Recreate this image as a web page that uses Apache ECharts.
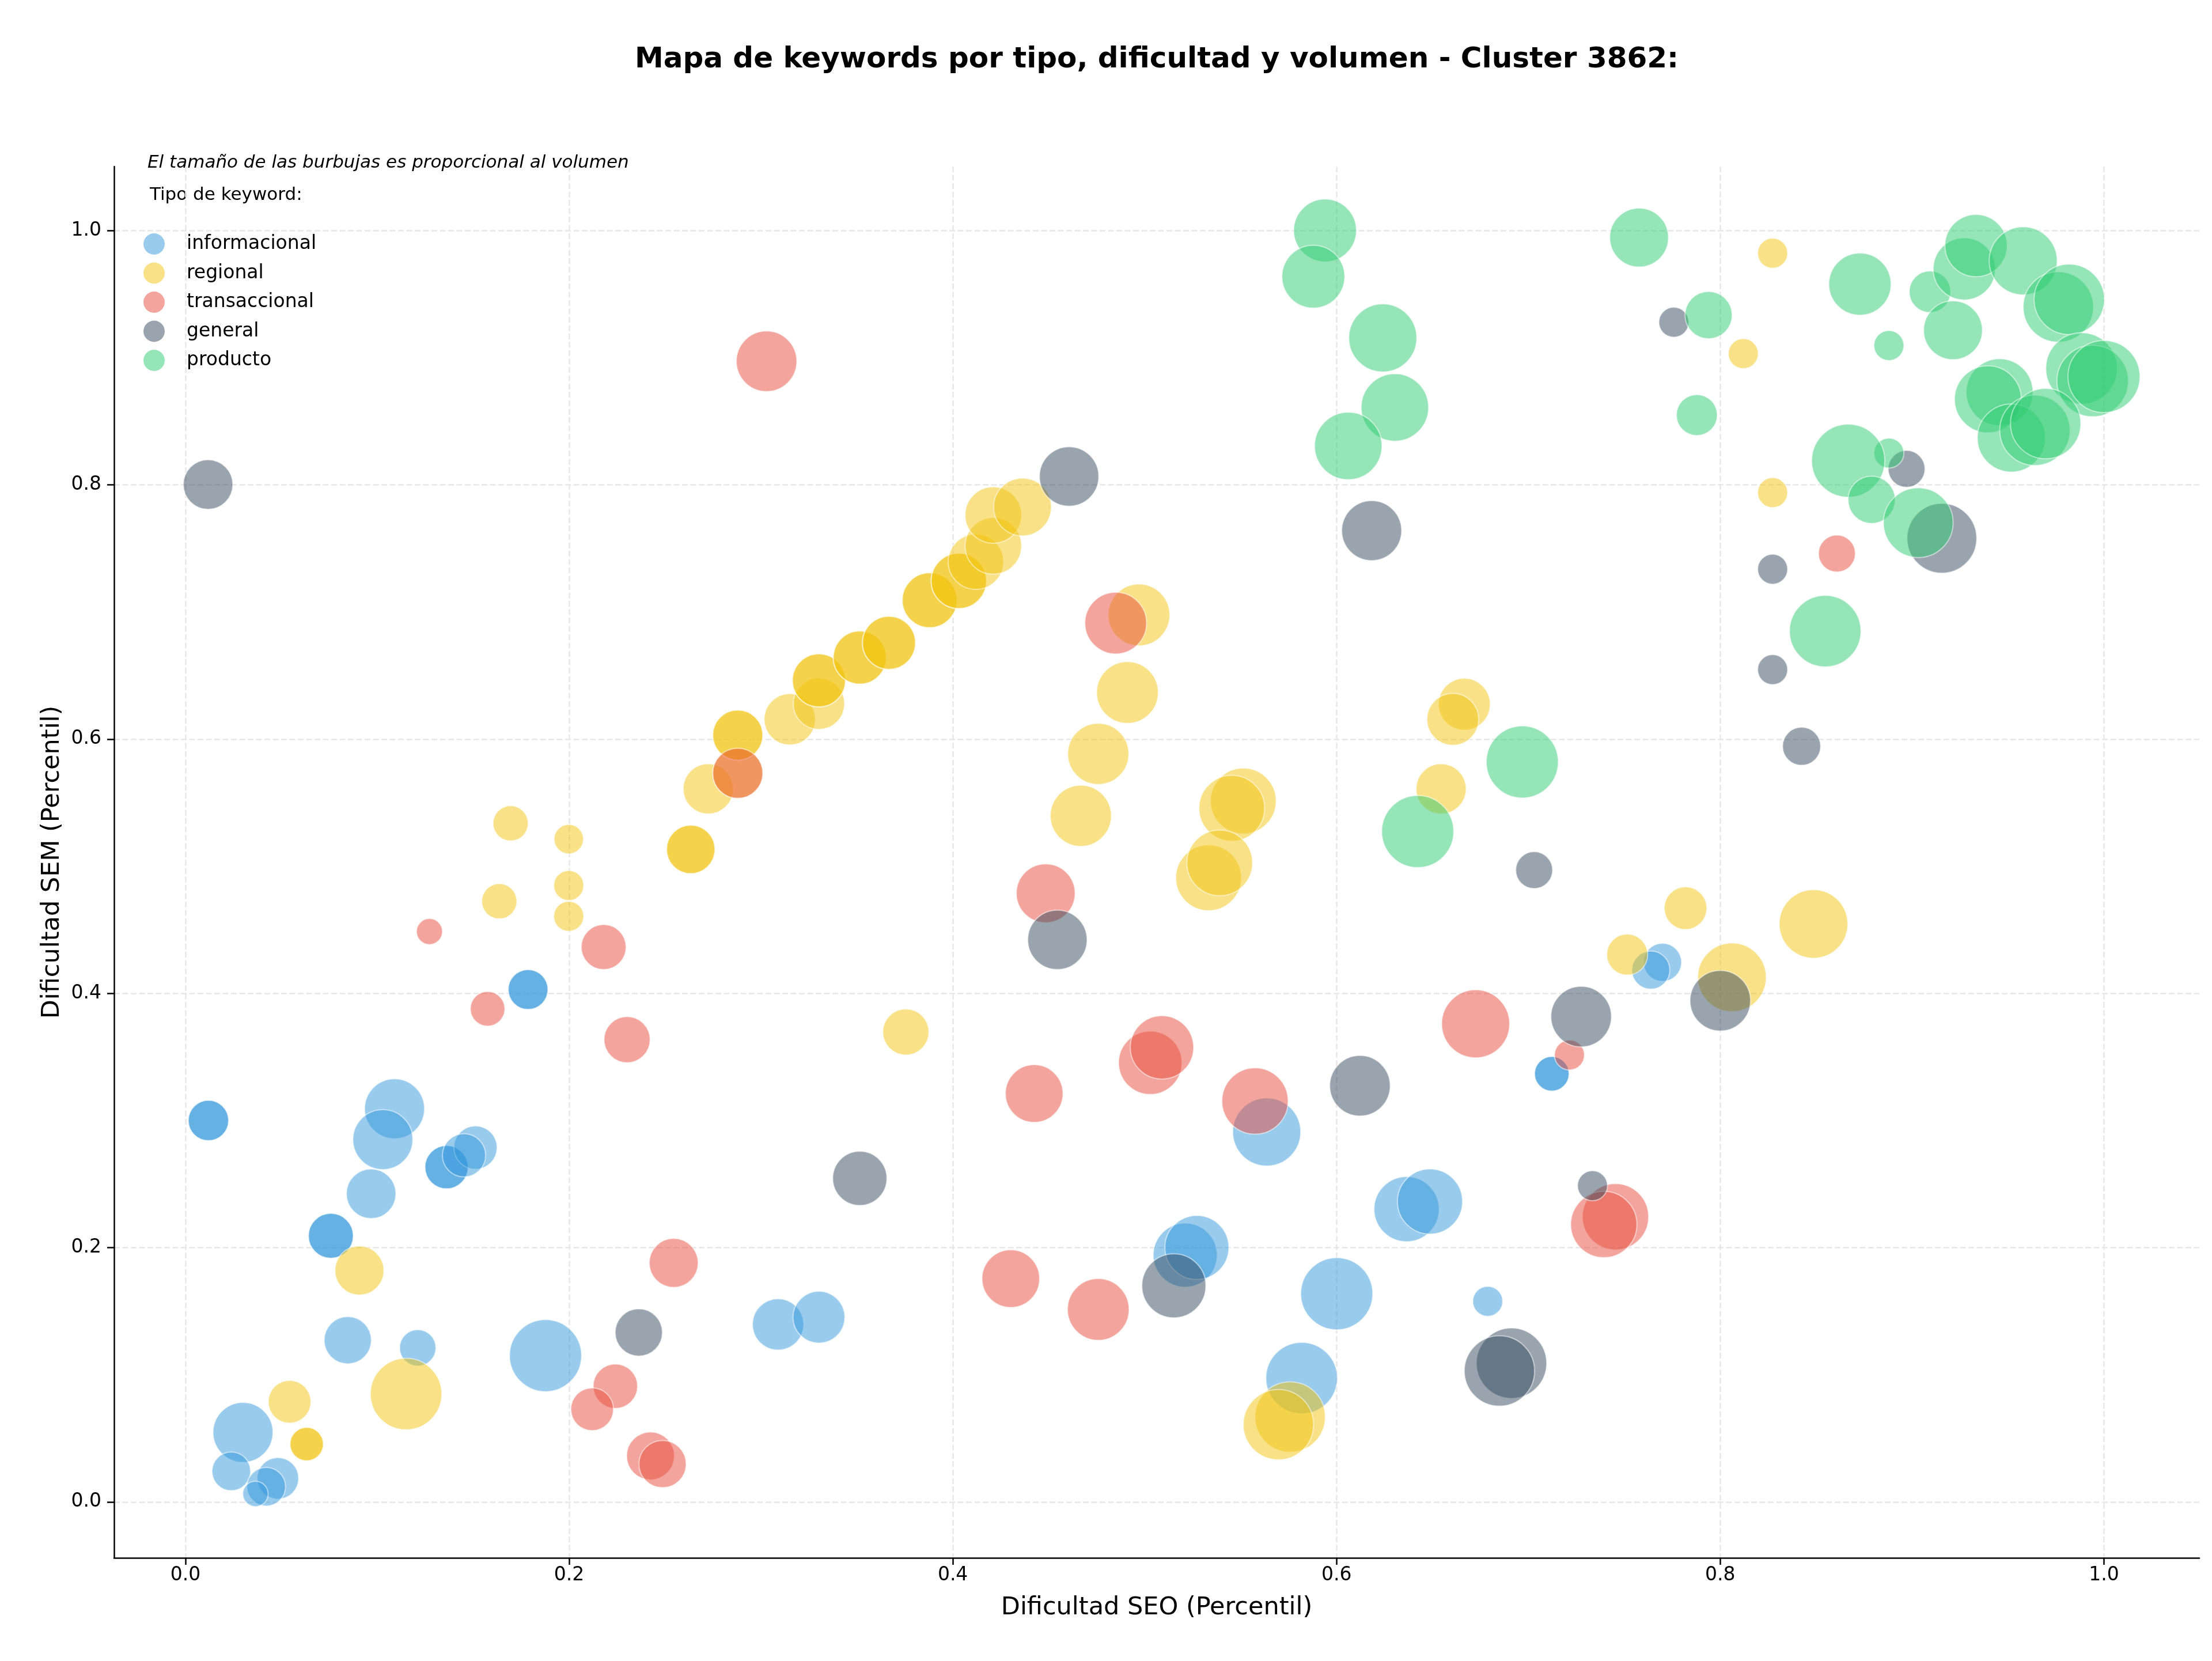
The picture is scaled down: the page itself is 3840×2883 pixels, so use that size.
<!DOCTYPE html>
<html>
<head>
<meta charset="utf-8">
<script src="https://cdn.jsdelivr.net/npm/echarts@6/dist/echarts.min.js"></script>
<style>
  html, body { margin: 0; padding: 0; background: #fff; }
  #chart { width: 3840px; height: 2883px; }
</style>
</head>
<body>
<div id="chart"></div>
<script>
// tipos de keyword, en el orden de la leyenda
const tipos = ['informacional', 'regional', 'transaccional', 'general', 'producto'];
const colores = ['#3498db', '#f1c40f', '#e74c3c', '#34495e', '#2ecc71'];

// cada punto: [dificultad SEO, dificultad SEM, volumen]
const informacional = [
  [0.012, 0.300, 3140], [0.012, 0.300, 3140],
  [0.1786, 0.403, 3050], [0.1786, 0.403, 3050],
  [0.1361, 0.2633, 3600], [0.1361, 0.2633, 3600],
  [0.0758, 0.2093, 3890], [0.0758, 0.2093, 3890],
  [0.7122, 0.3367, 2300], [0.7122, 0.3367, 2300],
  [0.109, 0.3092, 6920], [0.1029, 0.285, 6920],
  [0.1512, 0.2787, 3600], [0.1452, 0.2726, 3600],
  [0.0968, 0.2424, 4730], [0.0846, 0.1272, 4300],
  [0.1211, 0.1212, 2540], [0.1877, 0.1151, 10000],
  [0.3089, 0.1396, 5070], [0.3302, 0.1453, 5180],
  [0.030, 0.0547, 6920], [0.0239, 0.0241, 2870],
  [0.0482, 0.0185, 3320], [0.0421, 0.012, 2870],
  [0.0365, 0.0063, 1240], [0.5636, 0.291, 8910],
  [0.6365, 0.2303, 8170], [0.6487, 0.2363, 8170],
  [0.6788, 0.1578, 1730], [0.5211, 0.1941, 7890],
  [0.5272, 0.2001, 7890], [0.6001, 0.1638, 10000],
  [0.5818, 0.0974, 9840], [0.7699, 0.4244, 2790],
  [0.7638, 0.4183, 2790]
];
const regional = [
  [0.1695, 0.5337, 2380], [0.1998, 0.5213, 1660],
  [0.2634, 0.5132, 4520], [0.2634, 0.5132, 4520],
  [0.2725, 0.5608, 4840], [0.2879, 0.5731, 4840],
  [0.2879, 0.6031, 4840], [0.2879, 0.6031, 4840],
  [0.315, 0.6155, 5070], [0.3302, 0.6278, 5070],
  [0.3302, 0.6461, 5420], [0.3302, 0.6461, 5420],
  [0.3515, 0.6641, 5420], [0.3515, 0.6641, 5420],
  [0.3667, 0.6757, 5420], [0.3667, 0.6757, 5420],
  [0.3879, 0.7092, 5780], [0.3879, 0.7092, 5780],
  [0.4031, 0.7244, 5900], [0.4031, 0.7244, 5900],
  [0.412, 0.7395, 5900], [0.4211, 0.7519, 6150],
  [0.4211, 0.7762, 6150], [0.4363, 0.7825, 6400],
  [0.497, 0.6976, 7330], [0.491, 0.6366, 7330],
  [0.4758, 0.5883, 7190], [0.4667, 0.5396, 7190],
  [0.5514, 0.5513, 8320], [0.5454, 0.5456, 8320],
  [0.5333, 0.4909, 8320], [0.5391, 0.5026, 8320],
  [0.6666, 0.6274, 5180], [0.6606, 0.6155, 5180],
  [0.6545, 0.5608, 4840], [0.8273, 0.9821, 1730],
  [0.812, 0.9031, 1730], [0.8273, 0.7938, 1730],
  [0.7819, 0.467, 3500], [0.8486, 0.4546, 9060],
  [0.7515, 0.4305, 3230], [0.8061, 0.4126, 9060],
  [0.3755, 0.3696, 4100], [0.5758, 0.0668, 9530],
  [0.5697, 0.0608, 9530], [0.1636, 0.4724, 2380],
  [0.1998, 0.4848, 1730], [0.1998, 0.4606, 1730],
  [0.0907, 0.182, 4620], [0.115, 0.0849, 9840],
  [0.0543, 0.0788, 3500],
  [0.0632, 0.0455, 2150], [0.0632, 0.0455, 2150]
];
const transaccional = [
  [0.3029, 0.8971, 7060], [0.2879, 0.5731, 4840],
  [0.4849, 0.6912, 7330], [0.8608, 0.7459, 2620],
  [0.4484, 0.4787, 6660], [0.4424, 0.3212, 6400],
  [0.5029, 0.3454, 7740], [0.509, 0.3575, 7740],
  [0.5575, 0.3153, 8460], [0.4302, 0.1756, 6400],
  [0.4758, 0.1514, 7330], [0.6725, 0.376, 8910],
  [0.7214, 0.3515, 1730], [0.7454, 0.2243, 8460],
  [0.7393, 0.2182, 8460], [0.1272, 0.4486, 1300],
  [0.218, 0.4364, 3890], [0.1575, 0.3878, 2300],
  [0.2302, 0.3636, 4100], [0.2545, 0.188, 4620],
  [0.2241, 0.091, 3800], [0.212, 0.0729, 3500],
  [0.2424, 0.0362, 4410], [0.2487, 0.0298, 4300]
];
const general = [
  [0.0118, 0.8002, 4730], [0.4606, 0.8065, 6790],
  [0.6183, 0.7639, 6920], [0.7758, 0.9278, 1730],
  [0.8971, 0.8125, 2620], [0.9155, 0.7579, 9370],
  [0.8273, 0.7336, 1730], [0.8273, 0.6546, 1730],
  [0.8424, 0.5943, 2790], [0.703, 0.4969, 2620],
  [0.800, 0.3942, 7060], [0.7275, 0.3817, 7060],
  [0.7334, 0.2487, 1730], [0.6912, 0.1091, 9530],
  [0.6849, 0.103, 9530], [0.4545, 0.4421, 6790],
  [0.6122, 0.3273, 7060], [0.3515, 0.2545, 5660],
  [0.5152, 0.170, 7890], [0.2363, 0.1333, 4300]
];
const producto = [
  [0.594, 1.000, 7600], [0.5879, 0.9637, 7600],
  [0.6241, 0.9155, 8910], [0.6304, 0.8608, 8760],
  [0.6061, 0.8305, 8760], [0.6423, 0.5273, 10000],
  [0.6968, 0.582, 10000], [0.7577, 0.9944, 6660],
  [0.7939, 0.9334, 4300], [0.7878, 0.8548, 3230],
  [0.8728, 0.9578, 7460], [0.8879, 0.9095, 1730],
  [0.9093, 0.9518, 3320], [0.9272, 0.9698, 7460],
  [0.9333, 0.9881, 7460], [0.9579, 0.9761, 8910],
  [0.9213, 0.9215, 6660], [0.9762, 0.9398, 9530],
  [0.9819, 0.9458, 9530], [0.9883, 0.8915, 9840],
  [0.9941, 0.8816, 9840], [1.000, 0.8851, 10000],
  [0.9456, 0.8728, 8610], [0.9395, 0.8672, 8610],
  [0.9517, 0.8368, 8910], [0.964, 0.8428, 9530],
  [0.9696, 0.8481, 9530], [0.8879, 0.8249, 1730],
  [0.8667, 0.8189, 10320], [0.8789, 0.7882, 4300],
  [0.9032, 0.7702, 9370], [0.8547, 0.6849, 9840]
];

const datos = [informacional, regional, transaccional, general, producto];
const ticksX = [0, 0.2, 0.4, 0.6, 0.8, 1.0];
const ticksY = [0, 0.2, 0.4, 0.6, 0.8, 1.0];

const FONT = 'DejaVu Sans';

// color con transparencia para la leyenda
const rgba = (hex, a) => {
  const n = parseInt(hex.slice(1), 16);
  return `rgba(${(n >> 16) & 255},${(n >> 8) & 255},${n & 255},${a})`;
};

const series = tipos.map((tipo, i) => ({
  name: tipo,
  type: 'scatter',
  data: datos[i],
  symbolSize: v => Math.sqrt(v[2]) * 1.25,
  itemStyle: {
    color: colores[i],
    opacity: 0.5,
    borderColor: '#ffffff',
    borderWidth: 2
  },
  emphasis: { disabled: true }
}));

const axisComun = {
  type: 'value',
  axisLine: { onZero: false, lineStyle: { color: '#000', width: 2.5 } },
  axisTick: { length: 12, lineStyle: { color: '#000', width: 2.5 } },
  axisLabel: {
    color: '#000',
    fontFamily: FONT,
    fontSize: 33,
    formatter: v => v.toFixed(1)
  },
  splitLine: {
    show: true,
    lineStyle: { color: '#e7e7e7', width: 2.5, type: [10, 4.5] }
  },
  nameLocation: 'middle',
  nameTextStyle: { color: '#000', fontFamily: FONT, fontSize: 43 }
};

const option = {
  animation: false,
  backgroundColor: '#ffffff',
  title: {
    text: 'Mapa de keywords por tipo, dificultad y volumen - Cluster 3862:',
    left: 2003,
    top: 74,
    textAlign: 'center',
    textStyle: { fontFamily: FONT, fontSize: 50, fontWeight: 'bold', color: '#000' }
  },
  grid: { left: 198, right: 22, top: 289, bottom: 179, containLabel: false },
  xAxis: Object.assign({}, axisComun, {
    min: -0.0372,
    max: 1.0497,
    name: 'Dificultad SEO (Percentil)',
    nameGap: 65,
    axisTick: Object.assign({}, axisComun.axisTick, { customValues: ticksX }),
    axisLabel: Object.assign({}, axisComun.axisLabel, { customValues: ticksX, margin: 14 })
  }),
  yAxis: Object.assign({}, axisComun, {
    min: -0.044,
    max: 1.0503,
    name: 'Dificultad SEM (Percentil)',
    nameGap: 84,
    nameRotate: 90,
    axisTick: Object.assign({}, axisComun.axisTick, { customValues: ticksY }),
    axisLabel: Object.assign({}, axisComun.axisLabel, { customValues: ticksY, margin: 22 })
  }),
  legend: {
    orient: 'vertical',
    left: 244,
    top: 400,
    itemWidth: 37,
    itemHeight: 37,
    itemGap: 13.5,
    icon: 'circle',
    data: tipos.map((t, i) => ({
      name: t,
      itemStyle: { color: rgba(colores[i], 0.5), borderWidth: 0, opacity: 1 }
    })),
    textStyle: { fontFamily: FONT, fontSize: 33, color: '#000', padding: [0, 0, 0, 33] }
  },
  graphic: [
    {
      type: 'text',
      left: 256,
      top: 267,
      style: {
        text: 'El tamaño de las burbujas es proporcional al volumen',
        font: 'italic 31px "DejaVu Sans"',
        fill: '#000'
      }
    },
    {
      type: 'text',
      left: 260,
      top: 323,
      style: {
        text: 'Tipo de keyword:',
        font: '31px "DejaVu Sans"',
        fill: '#000'
      }
    }
  ],
  series: series
};

const chart = echarts.init(document.getElementById('chart'));
chart.setOption(option);
</script>
</body>
</html>
